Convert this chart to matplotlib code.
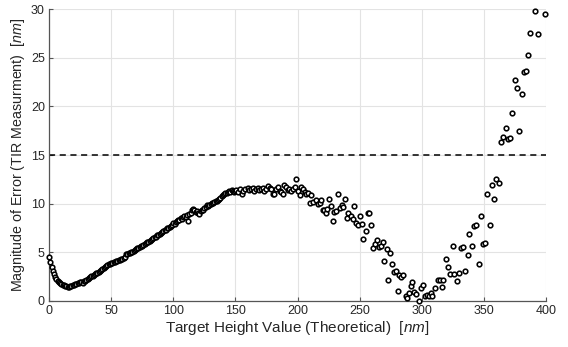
import numpy as np
import matplotlib
matplotlib.use("Agg")
import matplotlib.pyplot as plt

plt.rcParams['font.family'] = ['Liberation Sans', 'DejaVu Sans']
plt.rcParams['mathtext.fontset'] = 'custom'
plt.rcParams['mathtext.rm'] = 'Liberation Sans'
plt.rcParams['mathtext.it'] = 'Liberation Sans:italic'

# dense part of the sweep (0 - 150 nm, ~1 nm steps)
x_dense = list(range(0, 151))
y_dense = [
    4.5, 4.0, 3.5, 3.1, 2.8, 2.5, 2.3, 2.1, 2.0, 1.85,
    1.75, 1.65, 1.6, 1.55, 1.5, 1.48, 1.45, 1.5, 1.55, 1.6,
    1.65, 1.7, 1.75, 1.8, 1.85, 1.9, 1.95, 1.85, 2.05, 2.1,
    2.2, 2.3, 2.35, 2.45, 2.55, 2.6, 2.7, 2.75, 2.9, 2.85,
    3.0, 3.1, 3.2, 3.3, 3.4, 3.5, 3.6, 3.65, 3.75, 3.8,
    3.9, 3.95, 4.0, 4.05, 4.1, 4.15, 4.2, 4.25, 4.3, 4.35,
    4.4, 4.5, 4.8, 4.85, 4.9, 4.95, 5.0, 5.05, 5.15, 5.25,
    5.3, 5.4, 5.45, 5.55, 5.6, 5.7, 5.8, 5.85, 5.95, 6.05,
    6.1, 6.2, 6.3, 6.35, 6.5, 6.55, 6.6, 6.75, 6.8, 6.85,
    7.0, 7.05, 7.15, 7.25, 7.3, 7.45, 7.5, 7.6, 7.75, 7.8,
    8.0, 7.95, 8.1, 8.2, 8.3, 8.35, 8.5, 8.45, 8.6, 8.7,
    8.65, 8.8, 8.2, 8.9, 9.0, 9.3, 9.5, 9.3, 9.1, 9.2,
    9.0, 8.95, 9.25, 9.4, 9.3, 9.6, 9.7, 9.9, 9.75, 9.85,
    10.0, 10.1, 10.05, 10.2, 10.3, 10.25, 10.4, 10.5, 10.6, 10.75,
    10.9, 11.0, 11.1, 11.05, 11.2, 11.3, 11.15, 11.4, 11.3, 11.2,
    11.35,
]

# sparser, noisier part (150 - 400 nm)
x_sparse = [
    150.5, 152.0, 153.5, 155.0, 156.5, 158.0, 159.9, 161.3, 162.6, 164.0,
    165.3, 166.7, 168.0, 169.4, 170.7, 172.0, 173.4, 174.8, 176.1, 177.5,
    178.8, 180.1, 181.4, 182.8, 184.2, 185.5, 186.9, 188.2, 189.5, 190.9,
    192.2, 193.5, 194.9, 196.2, 197.6, 198.8, 200.3, 201.6, 203.0, 204.3,
    205.7, 207.0, 208.4, 209.7, 211.0, 212.4, 214.5, 216.4, 217.7, 219.1,
    220.4, 221.5, 222.6, 224.0, 225.4, 226.7, 228.3, 229.6, 231.0, 232.3,
    234.0, 235.5, 237.0, 238.2, 239.6, 241.0, 242.8, 244.6, 245.7, 247.0,
    248.3, 250.2, 251.5, 252.9, 254.8, 256.4, 257.7, 259.0, 260.9, 262.2,
    263.6, 265.5, 266.9, 268.5, 269.8, 271.7, 273.0, 274.4, 276.3, 277.7,
    279.3, 280.5, 282.0, 283.5, 285.0, 287.0, 288.4, 289.7, 291.0, 292.5,
    293.8, 295.7, 297.8, 299.0, 301.0, 302.7, 304.3, 305.7, 307.2, 308.6,
    311.0, 312.7, 314.6, 316.0, 316.8, 319.5, 321.4, 322.7, 324.9, 326.2,
    328.0, 329.7, 331.6, 333.5, 335.0, 337.0, 338.4, 340.5, 341.9, 343.8,
    345.7, 347.3, 349.0, 351.0, 352.7, 354.6, 356.5, 358.0, 360.0, 361.9,
    363.6, 365.5, 367.4, 369.0, 371.0, 373.0, 374.7, 376.5, 378.3, 380.3,
    382.0, 384.0, 385.6, 387.5, 391.3, 393.2, 398.8,
]
y_sparse = [
    11.4, 11.2, 11.5, 11.0, 11.3, 11.5, 11.65, 11.4, 11.55, 11.6,
    11.35, 11.5, 11.65, 11.4, 11.55, 11.6, 11.35, 11.5, 11.85, 11.6,
    11.5, 10.95, 10.95, 11.55, 11.7, 11.35, 11.2, 11.0, 11.95, 11.7,
    11.45, 11.55, 11.3, 11.5, 11.7, 12.55, 11.3, 10.85, 11.75, 11.5,
    11.2, 10.95, 11.05, 10.05, 10.9, 10.2, 10.4, 9.95, 10.05, 10.4,
    9.4, 9.3, 9.05, 9.5, 10.5, 9.75, 8.2, 9.15, 9.25, 10.95,
    9.6, 9.9, 9.7, 10.5, 8.55, 9.0, 8.7, 8.4, 9.75, 8.0,
    7.8, 8.7, 7.95, 6.35, 7.2, 9.0, 9.05, 7.85, 5.4, 5.9,
    6.3, 5.55, 5.6, 6.05, 4.1, 5.3, 2.15, 4.95, 3.8, 3.0,
    3.05, 1.05, 2.7, 2.45, 2.65, 0.5, 0.35, 0.85, 1.55, 1.9,
    0.95, 0.7, 0.05, 1.3, 1.65, 0.5, 0.65, 0.5, 0.85, 0.5,
    1.3, 2.15, 2.15, 1.4, 2.2, 4.3, 3.5, 2.75, 5.65, 2.75,
    2.05, 2.9, 5.4, 5.5, 3.05, 4.75, 6.85, 5.65, 7.7, 7.8,
    3.8, 8.75, 5.9, 6.0, 11.0, 7.8, 11.9, 10.45, 12.5, 12.15,
    16.35, 16.9, 17.8, 16.6, 16.7, 19.3, 22.7, 21.9, 17.5, 21.3,
    23.5, 23.6, 25.3, 27.5, 29.75, 27.4, 29.45,
]

threshold = 15
x_ticks = [0, 50, 100, 150, 200, 250, 300, 350, 400]
y_ticks = [0, 5, 10, 15, 20, 25, 30]

x = np.array(x_dense + x_sparse, dtype=float)
y = np.array(y_dense + y_sparse, dtype=float)

fig = plt.figure(figsize=(5.68, 3.47), dpi=100)
ax = fig.add_axes([0.0863, 0.1326, 0.875, 0.8414])

ax.grid(True, color='#e3e3e3', linewidth=0.8, zorder=0)
ax.set_axisbelow(True)

ax.scatter(x, y, s=11, facecolors='white', edgecolors='black',
           linewidths=1.15, zorder=3, clip_on=False)
ax.axhline(threshold, color='black', linestyle=(0, (4, 3)), linewidth=1.1, zorder=2)

ax.set_xlim(0, 400)
ax.set_ylim(0, 30)
ax.set_xticks(x_ticks)
ax.set_yticks(y_ticks)

for side in ['top', 'right']:
    ax.spines[side].set_visible(False)
for side in ['left', 'bottom']:
    ax.spines[side].set_color('#555555')
    ax.spines[side].set_linewidth(0.9)

ax.tick_params(direction='in', length=3, width=0.8, color='#555555',
               labelsize=9, labelcolor='#262626', pad=3)

ax.set_xlabel('Target Height Value (Theoretical)  $\\mathit{[nm]}$',
              fontsize=11, color='#262626', labelpad=1)
ax.set_ylabel('Magnitude of Error (TIR Measurment)  $\\mathit{[nm]}$',
              fontsize=10.3, color='#262626', labelpad=3)

fig.savefig('out.png', dpi=100)
